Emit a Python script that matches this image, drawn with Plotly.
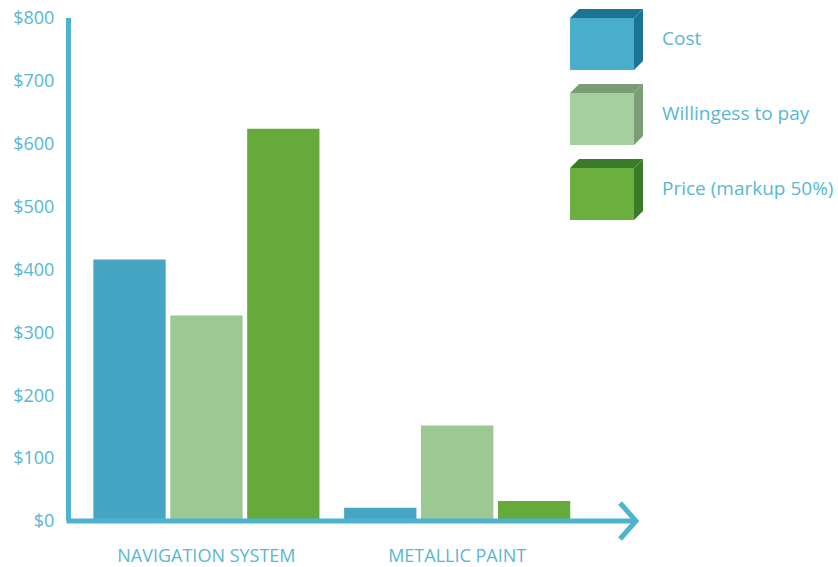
import plotly.graph_objects as go

categories = ["NAVIGATION SYSTEM", "METALLIC PAINT"]
series_names = ["Cost", "Willingess to pay", "Price (markup 50%)"]
cost = [416, 21]
willingness = [327, 152]
price = [624, 32]
y_ticks = [0, 100, 200, 300, 400, 500, 600, 700, 800]
y_tick_labels = [f"${v}" for v in y_ticks]

bar_colors = ["#45a5c2", "#9cc894", "#65aa3a"]
face_colors = ["#49aecc", "#a3d09c", "#6bb03e"]
side_colors = ["#1b7491", "#7b9d75", "#3a7b2a"]
axis_color = "#4db3d1"
text_color = "#58b7d3"
font_family = "Open Sans, Lato, sans-serif"

W, H = 838, 567
L, R, T, B = 70.5, 640, 18, 521  # plot area in pixels


def px(x):
    return (x - L) / (R - L)


def py(y):
    return (B - y) / (B - T)


fig = go.Figure()
for name, vals, col in zip(series_names, [cost, willingness, price], bar_colors):
    fig.add_trace(go.Bar(x=categories, y=vals, name=name, marker=dict(color=col, line=dict(width=0)),
                         showlegend=False, hoverinfo="x+y+name"))

shapes = []
shapes.append(dict(type="line", xref="paper", yref="paper", x0=px(66), x1=px(634), y0=py(521), y1=py(521),
                   line=dict(color=axis_color, width=5), layer="above"))
shapes.append(dict(type="path", xref="paper", yref="paper",
                   path=f"M {px(620)} {py(503)} L {px(636)} {py(521)} L {px(620)} {py(539)}",
                   line=dict(color=axis_color, width=5), layer="above"))

annotations = []
box_tops = [18, 93, 168]
fx0, fx1, d, hgt = 570, 634, 9, 52
for i, (name, top) in enumerate(zip(series_names, box_tops)):
    shapes.append(dict(type="rect", xref="paper", yref="paper", x0=px(fx0), x1=px(fx1), y0=py(top + hgt), y1=py(top),
                       fillcolor=face_colors[i], line=dict(width=0)))
    shapes.append(dict(type="path", xref="paper", yref="paper",
                       path=f"M {px(fx0)} {py(top)} L {px(fx0 + d)} {py(top - d)} L {px(fx1 + d)} {py(top - d)} L {px(fx1)} {py(top)} Z",
                       fillcolor=side_colors[i], line=dict(width=0)))
    shapes.append(dict(type="path", xref="paper", yref="paper",
                       path=f"M {px(fx1)} {py(top)} L {px(fx1 + d)} {py(top - d)} L {px(fx1 + d)} {py(top + hgt - d)} L {px(fx1)} {py(top + hgt)} Z",
                       fillcolor=side_colors[i], line=dict(width=0)))
    annotations.append(dict(xref="paper", yref="paper", x=px(660), y=py(top + hgt / 2 - 6), xanchor="left",
                            yanchor="middle", text=name, showarrow=False,
                            font=dict(family=font_family, size=19, color=text_color)))

fig.update_layout(
    width=W, height=H,
    margin=dict(l=L, r=W - R, t=T, b=H - B, autoexpand=False),
    paper_bgcolor="white", plot_bgcolor="white",
    barmode="group", bargap=0.08, bargroupgap=0.06,
    shapes=shapes, annotations=annotations,
    font=dict(family=font_family, color=text_color),
    xaxis=dict(range=[-0.540, 1.729], showgrid=False, zeroline=False, showline=False, automargin=False,
               tickfont=dict(size=18, color=text_color), ticks="", ticklabelstandoff=22),
    yaxis=dict(range=[0, 800], tickvals=y_ticks, ticktext=y_tick_labels, showgrid=False, zeroline=False,
               showline=True, linecolor=axis_color, linewidth=5, automargin=False,
               tickfont=dict(size=18, color=text_color), ticks="", ticklabelstandoff=8),
)

fig.write_html("out.html", config={"displayModeBar": False},
               post_script="document.body.style.margin='0';document.body.style.overflow='hidden';")
